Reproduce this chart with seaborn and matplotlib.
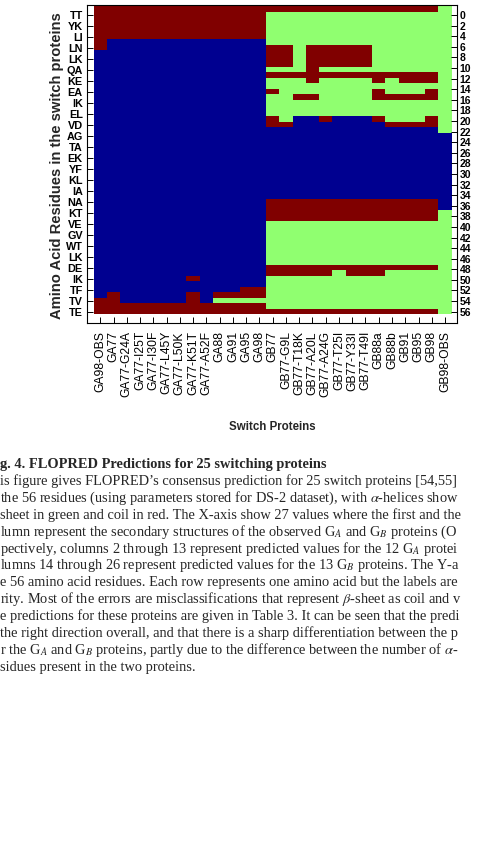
import numpy as np
import pandas as pd
import matplotlib
matplotlib.use("Agg")
import matplotlib.pyplot as plt
import seaborn as sns
from matplotlib.colors import ListedColormap

sns.set_theme(style="white")
plt.rcParams["font.family"] = ["Liberation Sans", "DejaVu Sans"]
plt.rcParams["mathtext.fontset"] = "stix"

SANS = ["Liberation Sans", "DejaVu Sans"]
SERIF = ["Liberation Serif", "DejaVu Serif"]

# 27 switch proteins (columns) and their per-residue consensus structure
# H = helix, E = sheet, C = coil ; 56 residues each, written in groups of 8
proteins = [
    "GA98-OBS", "GA77", "GA77-G24A", "GA77-I25T", "GA77-I30F", "GA77-L45Y",
    "GA77-L50K", "GA77-K51T", "GA77-A52F", "GA88", "GA91", "GA95", "GA98",
    "GB77", "GB77-G9L", "GB77-T18K", "GB77-A20L", "GB77-A24G", "GB77-T25I",
    "GB77-Y33I", "GB77-T49I", "GB88a", "GB88b", "GB91", "GB95", "GB98",
    "GB98-OBS",
]

structures = [
    "CCCCCCCC" "HHHHHHHH" "HHHHHHHH" "HHHHHHHH" "HHHHHHHH" "HHHHHHHH" "HHHHHCCC",  # GA98-OBS
    "CCCCCCHH" "HHHHHHHH" "HHHHHHHH" "HHHHHHHH" "HHHHHHHH" "HHHHHHHH" "HHHHCCCC",  # GA77
    "CCCCCCHH" "HHHHHHHH" "HHHHHHHH" "HHHHHHHH" "HHHHHHHH" "HHHHHHHH" "HHHHHHCC",  # GA77-G24A
    "CCCCCCHH" "HHHHHHHH" "HHHHHHHH" "HHHHHHHH" "HHHHHHHH" "HHHHHHHH" "HHHHHHCC",  # GA77-I25T
    "CCCCCCHH" "HHHHHHHH" "HHHHHHHH" "HHHHHHHH" "HHHHHHHH" "HHHHHHHH" "HHHHHHCC",  # GA77-I30F
    "CCCCCCHH" "HHHHHHHH" "HHHHHHHH" "HHHHHHHH" "HHHHHHHH" "HHHHHHHH" "HHHHHHCC",  # GA77-L45Y
    "CCCCCCHH" "HHHHHHHH" "HHHHHHHH" "HHHHHHHH" "HHHHHHHH" "HHHHHHHH" "HHHHHHCC",  # GA77-L50K
    "CCCCCCHH" "HHHHHHHH" "HHHHHHHH" "HHHHHHHH" "HHHHHHHH" "HHHHHHHH" "HCHHCCCC",  # GA77-K51T
    "CCCCCCHH" "HHHHHHHH" "HHHHHHHH" "HHHHHHHH" "HHHHHHHH" "HHHHHHHH" "HHHHHHCC",  # GA77-A52F
    "CCCCCCHH" "HHHHHHHH" "HHHHHHHH" "HHHHHHHH" "HHHHHHHH" "HHHHHHHH" "HHHHCECC",  # GA88
    "CCCCCCHH" "HHHHHHHH" "HHHHHHHH" "HHHHHHHH" "HHHHHHHH" "HHHHHHHH" "HHHHCECC",  # GA91
    "CCCCCCHH" "HHHHHHHH" "HHHHHHHH" "HHHHHHHH" "HHHHHHHH" "HHHHHHHH" "HHHCCECC",  # GA95
    "CCCCCCHH" "HHHHHHHH" "HHHHHHHH" "HHHHHHHH" "HHHHHHHH" "HHHHHHHH" "HHHCCECC",  # GA98
    "CEEEEEEC" "CCCECEEC" "EEEECCHH" "HHHHHHHH" "HHHCCCCE" "EEEEEEEC" "CEEEEEEC",  # GB77
    "CEEEEEEC" "CCCECEEE" "EEEEECHH" "HHHHHHHH" "HHHCCCCE" "EEEEEEEC" "CEEEEEEC",  # GB77-G9L
    "CEEEEEEE" "EEEECEEE" "CEEEHHHH" "HHHHHHHH" "HHHCCCCE" "EEEEEEEC" "CEEEEEEC",  # GB77-T18K
    "CEEEEEEC" "CCCCCCEE" "CEEEHHHH" "HHHHHHHH" "HHHCCCCE" "EEEEEEEC" "CEEEEEEC",  # GB77-A20L
    "CEEEEEEC" "CCCECEEE" "EEEECHHH" "HHHHHHHH" "HHHCCCCE" "EEEEEEEC" "CEEEEEEC",  # GB77-A24G
    "CEEEEEEC" "CCCECEEE" "EEEEHHHH" "HHHHHHHH" "HHHCCCCE" "EEEEEEEC" "EEEEEEEC",  # GB77-T25I
    "CEEEEEEC" "CCCECEEE" "EEEEHHHH" "HHHHHHHH" "HHHCCCCE" "EEEEEEEC" "CEEEEEEC",  # GB77-Y33I
    "CEEEEEEC" "CCCECEEE" "EEEEHHHH" "HHHHHHHH" "HHHCCCCE" "EEEEEEEC" "CEEEEEEC",  # GB77-T49I
    "CEEEEEEE" "EEEECCEC" "CEEECHHH" "HHHHHHHH" "HHHCCCCE" "EEEEEEEC" "CEEEEEEC",  # GB88a
    "CEEEEEEE" "EEEECEEE" "CEEEECHH" "HHHHHHHH" "HHHCCCCE" "EEEEEEEC" "EEEEEEEC",  # GB88b
    "CEEEEEEE" "EEEECCEE" "CEEEECHH" "HHHHHHHH" "HHHCCCCE" "EEEEEEEC" "EEEEEEEC",  # GB91
    "CEEEEEEE" "EEEECCEE" "CEEEECHH" "HHHHHHHH" "HHHCCCCE" "EEEEEEEC" "EEEEEEEC",  # GB95
    "CEEEEEEE" "EEEECCEC" "CEEECCHH" "HHHHHHHH" "HHHCCCCE" "EEEEEEEC" "EEEEEEEC",  # GB98
    "EEEEEEEE" "EEEEEEEE" "EEEEEEEH" "HHHHHHHH" "HHHHHEEE" "EEEEEEEE" "EEEEEEEE",  # GB98-OBS
]

residue_labels = [
    "TT", "YK", "LI", "LN", "LK", "QA", "KE", "EA", "IK", "EL", "VD", "AG",
    "TA", "EK", "YF", "KL", "IA", "NA", "KT", "VE", "GV", "WT", "LK", "DE",
    "IK", "TF", "TV", "TE",
]
residue_ticks = list(range(0, 57, 2))

caption_lines = [
    "g. 4. FLOPRED Predictions for 25 switching proteins",
    "is figure gives FLOPRED\u2019s consensus prediction for 25 switch proteins [54,55]",
    "the 56 residues (using parameters stored for DS-2 dataset), with $\\alpha$-helices show",
    "sheet in green and coil in red. The X-axis show 27 values where the first and the",
    "lumn represent the secondary structures of the observed G$_A$ and G$_B$ proteins (O",
    "pectively, columns 2 through 13 represent predicted values for the 12 G$_A$ protei",
    "lumns 14 through 26 represent predicted values for the 13 G$_B$ proteins. The Y-a",
    "e 56 amino acid residues. Each row represents one amino acid but the labels are",
    "rity. Most of the errors are misclassifications that represent $\\beta$-sheet as coil and v",
    "e predictions for these proteins are given in Table 3. It can be seen that the predi",
    "the right direction overall, and that there is a sharp differentiation between the p",
    "r the G$_A$ and G$_B$ proteins, partly due to the difference between the number of $\\alpha$-",
    "sidues present in the two proteins.",
]

code = {"H": 0, "E": 1, "C": 2}
grid = np.array([[code[c] for c in s] for s in structures]).T
df = pd.DataFrame(grid, columns=proteins)

W, H = 478, 846
fig = plt.figure(figsize=(W / 100, H / 100), dpi=100)
fig.patch.set_facecolor("white")

ax = fig.add_axes([87 / W, 1 - 322.7 / H, 370 / W, 318 / H])
sns.heatmap(df, ax=ax, cmap=ListedColormap(["#000090", "#90ff70", "#800000"]),
            vmin=-0.5, vmax=2.5, cbar=False, xticklabels=True, yticklabels=False)
ax.set_xlim(-0.5, 27.4)
ax.set_ylim(57.58, -0.24)
for s in ax.spines.values():
    s.set_visible(True)
    s.set_color("black")
    s.set_linewidth(0.8)

ax.tick_params(axis="x", direction="in", length=4, width=0.7, top=True,
               bottom=True, labeltop=False, pad=6, color="black")
ax.set_xticklabels(proteins, rotation=90, fontsize=8.7, color="black")
ax.set_xlabel("")
ax.set_ylabel("")

# right axis 0..56
ax_r = ax.twinx()
ax_r.set_ylim(58.08, -1.944)
ax_r.set_yticks(residue_ticks)
ax_r.set_yticklabels([str(t) for t in residue_ticks], family=SANS,
                     fontweight="bold", fontsize=7.5)
ax_r.tick_params(axis="y", direction="in", length=4, width=0.7, pad=2,
                 color="black", labelcolor="black")
for s in ax_r.spines.values():
    s.set_visible(False)

# left axis with residue pairs
ax_l = ax.twinx()
ax_l.set_ylim(58.08, -1.944)
ax_l.yaxis.tick_left()
ax_l.set_yticks(np.linspace(0, 56, len(residue_labels)))
ax_l.set_yticklabels(residue_labels, family=SANS, fontweight="bold",
                     fontsize=7.8)
ax_l.tick_params(axis="y", direction="in", length=4, width=0.7, pad=3,
                 color="black", labelcolor="black")
for s in ax_l.spines.values():
    s.set_visible(False)

fig.text(57 / W, 1 - 166 / H, "Amino Acid Residues in the switch proteins",
         rotation=90, ha="center", va="center", family=SANS,
         fontweight="bold", fontsize=10.6)
fig.text(272 / W, 1 - 426.7 / H, "Switch Proteins", ha="center",
         va="center", family=SANS, fontweight="bold", fontsize=8.3)

for i, line in enumerate(caption_lines):
    fig.text(0.5 / W, 1 - (468 + 16.9 * i) / H, line, ha="left",
             va="baseline", family=SERIF, fontsize=10.4,
             fontweight="bold" if i == 0 else "normal")

fig.savefig("out.png", dpi=100)
plt.close(fig)
